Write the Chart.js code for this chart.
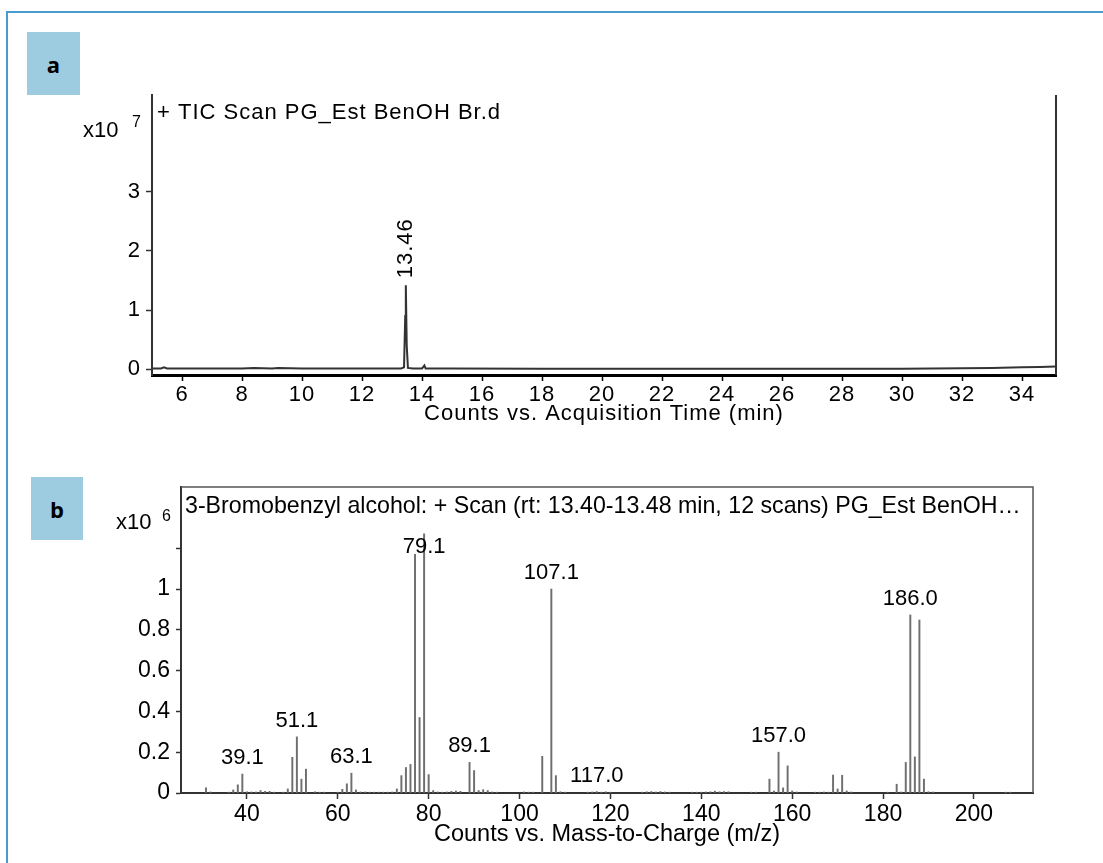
<!DOCTYPE html>
<html>
<head>
<meta charset="utf-8">
<title>TIC and mass spectrum</title>
<script src="https://cdn.jsdelivr.net/npm/chart.js@4.4.0/dist/chart.umd.min.js"></script>
<style>
  html, body { margin: 0; padding: 0; background: #fff; }
  body { width: 1103px; height: 863px; position: relative; overflow: hidden; }
  #frame { position: absolute; left: 6px; top: 11px; width: 1200px; height: 1000px; border: 2px solid #4a9bd0; }
  .tag { position: absolute; background: #9dcbdf; color: #000; font: bold 22px "Open Sans", sans-serif;
         display: flex; align-items: center; justify-content: center; }
  #tagA { left: 27px; top: 32px; width: 53px; height: 63px; }
  #tagB { left: 31px; top: 477px; width: 52px; height: 63px; }
  #ticCanvas { position: absolute; left: 0; top: 0; }
  #msCanvas { position: absolute; left: 0; top: 440px; }
</style>
</head>
<body>
<div id="frame"></div>
<div class="tag" id="tagA">a</div>
<div class="tag" id="tagB">b</div>
<canvas id="ticCanvas" width="1103" height="440"></canvas>
<canvas id="msCanvas" width="1103" height="423"></canvas>
<script>
// --- chromatogram (a), counts in x10^7 ---
var ticTime   = [5.0, 5.3, 5.4, 5.5, 6, 7, 8, 8.4, 9, 9.2, 10, 11, 12, 13, 13.3, 13.40, 13.44, 13.46, 13.49, 13.53, 13.7, 14.0, 14.08, 14.12, 14.2, 15, 18, 22, 26, 30, 31, 32, 33, 34, 34.6, 35.13];
var ticCounts = [0.01, 0.01, 0.03, 0.01, 0.01, 0.01, 0.01, 0.02, 0.01, 0.02, 0.01, 0.01, 0.01, 0.01, 0.01, 0.03, 0.9, 1.42, 0.4, 0.02, 0.01, 0.01, 0.06, 0.01, 0.01, 0.01, 0.005, 0.005, 0.005, 0.005, 0.01, 0.015, 0.02, 0.03, 0.035, 0.045];
var ticXTicks = [6, 8, 10, 12, 14, 16, 18, 20, 22, 24, 26, 28, 30, 32, 34];
var ticYTicks = [0, 1, 2, 3];
var ticPeakTime = 13.46;
var ticPeakText = '13.46';
var ticTitle = '+ TIC Scan PG_Est BenOH Br.d';

// --- mass spectrum (b), abundance in x10^6 ---
var msMz = [31, 32, 36, 37, 38, 39, 40, 41, 42, 43, 44, 45, 46, 48, 49, 50, 51, 52, 53, 55, 56, 57, 60, 61, 62, 63, 64, 65, 66, 67, 68, 69, 70, 71, 72, 73,
            74, 75, 76, 77, 78, 79, 80, 81, 82, 83, 84, 85, 86, 87, 89, 90, 91, 92, 93, 94, 95, 101, 102, 103, 105, 107, 108, 109, 110,
            115, 116, 117, 118, 119, 120, 127, 128, 129, 130, 131, 132, 133, 138, 139, 140, 141, 142, 143, 144, 145, 146, 151, 152,
            155, 156, 157, 158, 159, 160, 161, 165, 166, 167, 168, 169, 170, 171, 172, 173, 181, 183, 184, 185, 186, 187, 188, 189, 190, 191, 207, 208];
var msAbund = [0.025, 0.005, 0.004, 0.015, 0.04, 0.093, 0.006, 0.005, 0.005, 0.012, 0.008, 0.008, 0.004, 0.004, 0.02, 0.175, 0.275, 0.068, 0.117, 0.006, 0.004, 0.004, 0.004, 0.018, 0.045, 0.097, 0.015, 0.005, 0.005, 0.004, 0.004, 0.004, 0.004, 0.004, 0.005, 0.02,
               0.085, 0.125, 0.14, 1.17, 0.37, 1.27, 0.09, 0.012, 0.005, 0.004, 0.005, 0.008, 0.01, 0.008, 0.15, 0.11, 0.012, 0.016, 0.012, 0.005, 0.004, 0.005, 0.004, 0.004, 0.18, 1.0, 0.085, 0.006, 0.004,
               0.004, 0.005, 0.007, 0.004, 0.006, 0.004, 0.004, 0.006, 0.007, 0.005, 0.007, 0.005, 0.004, 0.004, 0.004, 0.004, 0.005, 0.006, 0.009, 0.006, 0.007, 0.006, 0.004, 0.004,
               0.068, 0.01, 0.2, 0.025, 0.133, 0.01, 0.005, 0.004, 0.004, 0.005, 0.004, 0.088, 0.02, 0.087, 0.01, 0.005, 0.004, 0.043, 0.005, 0.15, 0.873, 0.177, 0.848, 0.068, 0.006, 0.005, 0.004, 0.004];
var msPeakMz   = [39, 51, 63, 79, 89, 107, 117, 157, 186];
var msPeakText = ['39.1', '51.1', '63.1', '79.1', '89.1', '107.1', '117.0', '157.0', '186.0'];
var msXTicks = [40, 60, 80, 100, 120, 140, 160, 180, 200];
var msYTicks = [0, 0.2, 0.4, 0.6, 0.8, 1, 1.2];
var msYLabels = ['0', '0.2', '0.4', '0.6', '0.8', '1', ''];
var msTitle = '3-Bromobenzyl alcohol: + Scan (rt: 13.40-13.48 min, 12 scans) PG_Est BenOH\u2026';

var FAMILY = '"Liberation Sans", Arial, sans-serif';
Chart.defaults.font.family = FAMILY;
Chart.defaults.color = '#000';

function tickList(values) {
    return function(scale) {
        scale.ticks = values.map(function(v) { return { value: v }; });
    };
}

// text, frame and scale factor for the chromatogram
var ticDecor = {
    id: 'ticDecor',
    beforeDraw: function(chart) {
        chart.ctx.letterSpacing = '1px';
    },
    afterDraw: function(chart) {
        var ctx = chart.ctx, a = chart.chartArea;
        ctx.save();
        // right frame line
        ctx.strokeStyle = '#333';
        ctx.lineWidth = 2;
        ctx.beginPath();
        ctx.moveTo(a.right, a.top);
        ctx.lineTo(a.right, a.bottom);
        ctx.stroke();

        ctx.fillStyle = '#000';
        ctx.textBaseline = 'middle';
        ctx.font = '22px ' + FAMILY;
        ctx.textAlign = 'left';
        ctx.fillText(ticTitle, a.left + 5, a.top + 18);
        ctx.letterSpacing = '0px';
        ctx.font = '22px ' + FAMILY;
        ctx.fillText('x10', 83, 131);
        ctx.font = '16px ' + FAMILY;
        ctx.fillText('7', 132, 123);
        ctx.letterSpacing = '1px';

        // retention time label, rotated above the peak
        var top = Math.max.apply(null, ticCounts);
        var px = chart.scales.x.getPixelForValue(ticPeakTime);
        var py = chart.scales.y.getPixelForValue(top);
        ctx.font = '22px ' + FAMILY;
        ctx.translate(px, py - 7);
        ctx.rotate(-Math.PI / 2);
        ctx.textAlign = 'left';
        ctx.fillText(ticPeakText, 0, 0);
        ctx.restore();
    }
};

new Chart(document.getElementById('ticCanvas'), {
    type: 'line',
    data: {
        datasets: [{
            data: ticTime.map(function(t, i) { return { x: t, y: ticCounts[i] }; }),
            borderColor: '#333',
            borderWidth: 2,
            pointRadius: 0,
            tension: 0,
            fill: false
        }]
    },
    options: {
        responsive: false,
        animation: false,
        events: [],
        layout: { padding: { left: 0, right: 47, top: 95, bottom: 0 } },
        plugins: { legend: { display: false }, tooltip: { enabled: false } },
        scales: {
            x: {
                type: 'linear', min: 5.0, max: 35.13,
                afterBuildTicks: tickList(ticXTicks),
                afterFit: function(s) { s.height = 65; },
                ticks: { font: { size: 22 }, padding: 1, maxRotation: 0, autoSkip: false },
                grid: { drawOnChartArea: false, drawTicks: true, tickLength: 6, color: '#000', tickWidth: 1.5 },
                border: { display: true, color: '#000', width: 3 },
                title: { display: true, text: 'Counts vs. Acquisition Time (min)', font: { size: 22 }, padding: { top: 0, bottom: 13 } }
            },
            y: {
                type: 'linear', min: -0.1, max: 4.64,
                afterBuildTicks: tickList(ticYTicks),
                afterFit: function(s) { s.width = 152; },
                ticks: { font: { size: 22 }, padding: 5 },
                grid: { drawOnChartArea: false, drawTicks: true, tickLength: 6, color: '#333', tickWidth: 1.5 },
                border: { display: true, color: '#333', width: 2 }
            }
        }
    },
    plugins: [ticDecor]
});

// frame, title and peak labels for the spectrum
var msDecor = {
    id: 'msDecor',
    afterDraw: function(chart) {
        var ctx = chart.ctx, a = chart.chartArea;
        var xs = chart.scales.x, ys = chart.scales.y;
        ctx.save();
        ctx.strokeStyle = '#555';
        ctx.lineWidth = 1.5;
        ctx.beginPath();
        ctx.moveTo(a.left, a.top);
        ctx.lineTo(a.right, a.top);
        ctx.lineTo(a.right, a.bottom);
        ctx.stroke();

        ctx.fillStyle = '#000';
        ctx.textBaseline = 'middle';
        ctx.textAlign = 'left';
        ctx.font = '23.2px ' + FAMILY;
        ctx.fillText(msTitle, a.left + 4, a.top + 20);
        ctx.font = '22px ' + FAMILY;
        ctx.fillText('x10', 116, 83);
        ctx.font = '16px ' + FAMILY;
        ctx.fillText('6', 162, 77);

        ctx.font = '22px ' + FAMILY;
        ctx.textAlign = 'center';
        msPeakMz.forEach(function(m, i) {
            var v = msAbund[msMz.indexOf(m)];
            var y = Math.max(ys.getPixelForValue(v) - 16, a.top + 60);
            ctx.fillText(msPeakText[i], xs.getPixelForValue(m), y);
        });
        ctx.restore();
    }
};

new Chart(document.getElementById('msCanvas'), {
    type: 'bar',
    data: {
        datasets: [{
            data: msMz.map(function(m, i) { return { x: m, y: msAbund[i] }; }),
            backgroundColor: '#6f6f6f',
            borderWidth: 0,
            barThickness: 1.3
        }]
    },
    options: {
        responsive: false,
        animation: false,
        events: [],
        layout: { padding: { left: 0, right: 70, top: 47, bottom: 0 } },
        plugins: { legend: { display: false }, tooltip: { enabled: false } },
        scales: {
            x: {
                type: 'linear', min: 25.5, max: 213, offset: false,
                afterBuildTicks: tickList(msXTicks),
                afterFit: function(s) { s.height = 70; },
                ticks: { font: { size: 23 }, padding: 2, maxRotation: 0, autoSkip: false },
                grid: { drawOnChartArea: false, drawTicks: true, tickLength: 6, color: '#333', tickWidth: 1.5, offset: false },
                border: { display: true, color: '#333', width: 2 },
                title: { display: true, text: 'Counts vs. Mass-to-Charge (m/z)', font: { size: 23.5 }, padding: { top: 0, bottom: 14 } }
            },
            y: {
                type: 'linear', min: 0, max: 1.5,
                afterBuildTicks: tickList(msYTicks),
                afterFit: function(s) { s.width = 181; },
                ticks: {
                    font: { size: 23 }, padding: 6,
                    callback: function(v, i) { return msYLabels[i]; }
                },
                grid: { drawOnChartArea: false, drawTicks: true, tickLength: 5, color: '#333', tickWidth: 1.5 },
                border: { display: true, color: '#333', width: 2 }
            }
        }
    },
    plugins: [msDecor]
});
</script>
</body>
</html>
